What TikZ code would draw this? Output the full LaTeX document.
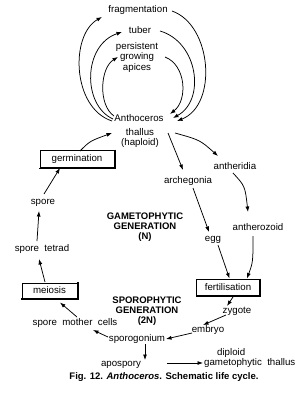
\documentclass[tikz,border=0pt]{standalone}
\usepackage{fontspec}
\setmainfont{Liberation Sans}
\usetikzlibrary{arrows.meta}
\tikzset{
  lbl/.style={inner sep=0pt, font=\fontsize{9.7}{10.5}\selectfont, align=center},
  bold/.style={lbl, font=\fontsize{9.5}{10.2}\selectfont\bfseries},
  arr/.style={line width=0.75pt, -{Latex[length=5.5pt,width=4pt]}},
  boxnode/.style={lbl, draw, line width=0.8pt, inner sep=0pt},
  shadowline/.style={line width=1.8pt}
}
\begin{document}
\begin{tikzpicture}[x=1pt,y=-1pt]
\useasboundingbox (0,0) rectangle (302,394);
% labels
\node[lbl] (frag) at (138,9.5) {fragmentation};
\node[lbl] (tub) at (140,30) {tuber};
\node[lbl] (pga) at (137,57) {persistent\\growing\\apices};
\node[lbl] (anth) at (139,118) {Anthoceros};
\node[lbl] (thal) at (140,138) {thallus\\(haploid)};
\node[lbl] (arch) at (188,181) {archegonia};
\node[lbl] (antd) at (235,166) {antheridia};
\node[lbl] (egg) at (213,240) {egg};
\node[lbl] (azo) at (258,227) {antherozoid};
\node[lbl] (spore) at (43,203) {spore};
\node[lbl] (tet) at (42,249) {spore\ \ tetrad};
\node[bold] (gam) at (145,227) {GAMETOPHYTIC\\GENERATION\\(N)};
\node[bold] (spo) at (147,311) {SPOROPHYTIC\\GENERATION\\(2N)};
\node[lbl] (zyg) at (237,311) {zygote};
\node[lbl] (emb) at (208,330) {embryo};
\node[lbl] (sgon) at (137,339) {sporogonium};
\node[lbl] (smc) at (75,323) {spore\ \ mother\ \ cells};
\node[lbl] (apo) at (121,365) {apospory};
\node[lbl, align=left, anchor=west] (dip) at (204,358) {\hspace*{13pt}diploid\\[-1pt]gametophytic\ \ thallus};
\node[lbl, font=\fontsize{9.5}{10.5}\selectfont\bfseries] (cap) at (164,377) {Fig. 12. \textit{Anthoceros}. Schematic life cycle.};
% boxes
\node[boxnode, minimum width=74pt, minimum height=17pt] (germ) at (77,159) {germination};
\node[boxnode, minimum width=63pt, minimum height=16pt] (fert) at (228,287.5) {fertilisation};
\node[boxnode, minimum width=55pt, minimum height=15pt] (mei) at (49.5,290.5) {meiosis};
\foreach \b in {germ,fert,mei}{
  \draw[shadowline] ([xshift=0.6pt,yshift=0.4pt]\b.north east) -- ([xshift=0.6pt,yshift=-0.6pt]\b.south east) -- ([xshift=-0.4pt,yshift=-0.6pt]\b.south west);
}
% coordinates for arc ends
\coordinate (a1s) at (112,121); \coordinate (a1e) at (102,17);
\coordinate (a2s) at (113,119); \coordinate (a2e) at (122,32);
\coordinate (a3s) at (114,116); \coordinate (a3e) at (118,57);
\coordinate (b1s) at (172,11); \coordinate (b1e) at (177,121);
\coordinate (b2s) at (160,31); \coordinate (b2e) at (173,118);
\coordinate (b3s) at (165,57); \coordinate (b3e) at (170,114);
\draw[arr] (a1s) .. controls (72,108) and (70,35) .. (a1e);
\draw[arr] (a2s) .. controls (82,105) and (83,45) .. (a2e);
\draw[arr] (a3s) .. controls (98,105) and (100,68) .. (a3e);
\draw[arr] (b1s) .. controls (212,25) and (218,105) .. (b1e);
\draw[arr] (b2s) .. controls (198,42) and (206,100) .. (b2e);
\draw[arr] (b3s) .. controls (186,65) and (188,100) .. (b3e);
% other connectors
\coordinate (g1) at (80,151); \coordinate (t1) at (112,133);
\draw[arr] (g1) .. controls (90,141) .. (t1);
\coordinate (t2) at (168,133); \coordinate (ar1) at (183,170);
\draw[arr] (t2) -- (ar1);
\coordinate (t3) at (175,133); \coordinate (ad1) at (218,156);
\draw[arr] (t3) .. controls (200,140) .. (ad1);
\coordinate (ar2) at (193,188); \coordinate (e1) at (209,232);
\draw[arr] (ar2) -- (e1);
\coordinate (ad2) at (233,173); \coordinate (az1) at (248,212);
\draw[arr] (ad2) .. controls (245,186) .. (az1);
\coordinate (e2) at (218,245); \coordinate (f1) at (229.5,278.5);
\draw[arr] (e2) -- (f1);
\coordinate (az2) at (253,236); \coordinate (f2) at (247,278.5);
\draw[arr] (az2) .. controls (253,262) .. (f2);
\coordinate (f3) at (233,297); \coordinate (z1) at (227,306);
\draw[arr] (f3) -- (z1);
\coordinate (z2) at (226,315); \coordinate (em1) at (203,325);
\draw[arr] (z2) -- (em1);
\coordinate (em2) at (192,333); \coordinate (sg1) at (166,339);
\draw[arr] (em2) -- (sg1);
\coordinate (sg2) at (108,337); \coordinate (sm1) at (93,330);
\draw[arr] (sg2) -- (sm1);
\coordinate (sm2) at (77,317); \coordinate (m1) at (60,302.5);
\draw[arr] (sm2) -- (m1);
\coordinate (m2) at (45,282); \coordinate (st1) at (39,259);
\draw[arr] (m2) -- (st1);
\coordinate (st2) at (37,241); \coordinate (sp1) at (39,211);
\draw[arr] (st2) -- (sp1);
\coordinate (sp2) at (44,194); \coordinate (g2) at (60,168);
\draw[arr] (sp2) -- (g2);
\coordinate (sg3) at (145,344); \coordinate (ap1) at (145,360);
\draw[arr] (sg3) -- (ap1);
\coordinate (ap2) at (167,363); \coordinate (d1) at (203,363);
\draw[arr] (ap2) -- (d1);
\end{tikzpicture}
\end{document}
